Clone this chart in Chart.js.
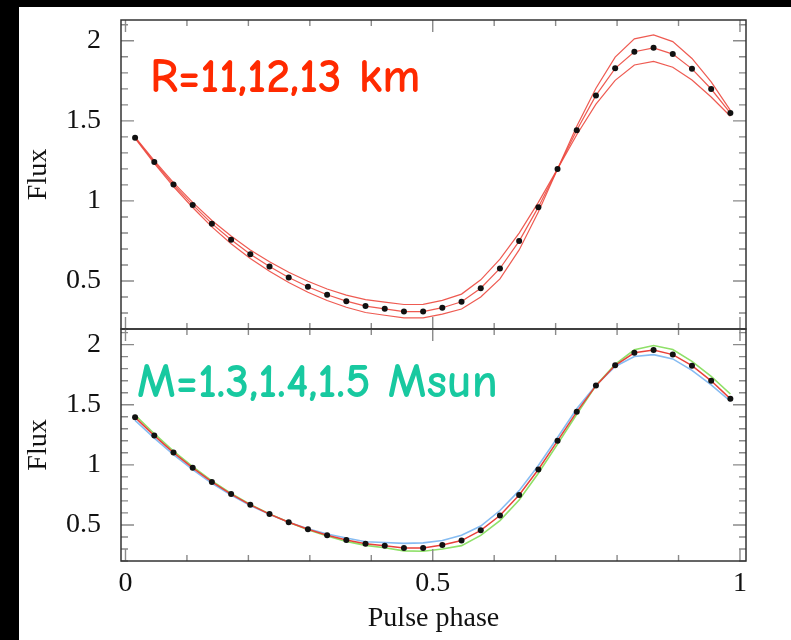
<!DOCTYPE html>
<html>
<head>
<meta charset="utf-8">
<script src="https://cdn.jsdelivr.net/npm/chart.js@4.4.0/dist/chart.umd.min.js"></script>
<style>
  html, body { margin: 0; padding: 0; background: #000; }
  body { width: 791px; height: 640px; position: relative; overflow: hidden; }
  #paper { position: absolute; left: 19px; top: 7px; width: 772px; height: 633px; background: #fff; }
  canvas { position: absolute; left: 0; top: 0; }
</style>
</head>
<body>
<div id="paper"></div>
<canvas id="topPanel" width="791" height="640"></canvas>
<canvas id="bottomPanel" width="791" height="640"></canvas>
<script>
// pulse phase bins (32 per cycle)
const phase = [0.015625, 0.046875, 0.078125, 0.109375, 0.140625, 0.171875, 0.203125, 0.234375,
  0.265625, 0.296875, 0.328125, 0.359375, 0.390625, 0.421875, 0.453125, 0.484375,
  0.515625, 0.546875, 0.578125, 0.609375, 0.640625, 0.671875, 0.703125, 0.734375,
  0.765625, 0.796875, 0.828125, 0.859375, 0.890625, 0.921875, 0.953125, 0.984375];

// reference model (R=12 km, M=1.4 Msun), the black dots
const fluxRef = [1.395, 1.243, 1.102, 0.975, 0.858, 0.757, 0.667, 0.590, 0.522, 0.464, 0.414, 0.374,
  0.343, 0.326, 0.309, 0.309, 0.333, 0.370, 0.455, 0.578, 0.749, 0.961, 1.200, 1.441,
  1.659, 1.828, 1.932, 1.956, 1.917, 1.825, 1.699, 1.549];

// top panel: radius variations
const fluxR13 = [1.399, 1.251, 1.114, 0.991, 0.878, 0.781, 0.694, 0.620, 0.554, 0.498, 0.450, 0.412,
  0.383, 0.368, 0.353, 0.354, 0.379, 0.418, 0.507, 0.636, 0.799, 0.991, 1.200, 1.413,
  1.604, 1.753, 1.849, 1.871, 1.835, 1.755, 1.649, 1.529];
const fluxR11 = [1.391, 1.235, 1.090, 0.959, 0.838, 0.733, 0.640, 0.560, 0.490, 0.430, 0.378, 0.336,
  0.303, 0.286, 0.269, 0.269, 0.293, 0.325, 0.400, 0.513, 0.694, 0.931, 1.200, 1.466,
  1.704, 1.898, 2.012, 2.037, 1.995, 1.890, 1.744, 1.565];

// bottom panel: mass variations
const fluxM13 = [1.415, 1.259, 1.115, 0.985, 0.866, 0.763, 0.671, 0.592, 0.522, 0.461, 0.408, 0.363,
  0.330, 0.310, 0.284, 0.281, 0.300, 0.328, 0.413, 0.536, 0.707, 0.930, 1.172, 1.421,
  1.659, 1.836, 1.957, 1.992, 1.959, 1.861, 1.735, 1.589];
const fluxM15 = [1.370, 1.223, 1.085, 0.960, 0.846, 0.749, 0.662, 0.588, 0.522, 0.468, 0.424, 0.391,
  0.360, 0.354, 0.347, 0.351, 0.371, 0.414, 0.491, 0.620, 0.785, 0.994, 1.228, 1.466,
  1.661, 1.818, 1.901, 1.917, 1.881, 1.786, 1.666, 1.529];

const xTicks = [0, 0.5, 1];
const xMinorTicks = [0, 0.1, 0.2, 0.3, 0.4, 0.5, 0.6, 0.7, 0.8, 0.9, 1];
const yTicks = [0.5, 1, 1.5, 2];
const yMinorTicks = [0.2, 0.3, 0.4, 0.5, 0.6, 0.7, 0.8, 0.9, 1, 1.1, 1.2, 1.3, 1.4, 1.5,
  1.6, 1.7, 1.8, 1.9, 2, 2.1];

const serif = {family: '"Liberation Serif", "Times New Roman", serif', size: 28};
const labelFont = 'bold 48px "Comic Sans MS", "Comic Neue", "Noto Sans", sans-serif';

const toPoints = arr => arr.map((v, i) => ({x: phase[i], y: v}));

// frame with inward ticks on all four sides, plus the panel caption
const framePlugin = {
  id: 'frame',
  afterDraw(chart, args, opts) {
    const {ctx, chartArea: a} = chart;
    const xs = chart.scales.x, ys = chart.scales.y;
    ctx.save();
    ctx.strokeStyle = '#8a8a8a';
    ctx.lineWidth = 1.4;
    ctx.beginPath();
    xMinorTicks.forEach(v => {
      const px = xs.getPixelForValue(v);
      const len = xTicks.includes(v) ? 12 : 6;
      ctx.moveTo(px, a.top); ctx.lineTo(px, a.top + len);
      ctx.moveTo(px, a.bottom); ctx.lineTo(px, a.bottom - len);
    });
    yMinorTicks.forEach(v => {
      const py = ys.getPixelForValue(v);
      const len = yTicks.includes(v) ? 13 : 7;
      ctx.moveTo(a.left, py); ctx.lineTo(a.left + len, py);
      ctx.moveTo(a.right, py); ctx.lineTo(a.right - len, py);
    });
    ctx.stroke();
    ctx.strokeStyle = '#333';
    ctx.lineWidth = 1.5;
    ctx.strokeRect(a.left, a.top, a.right - a.left, a.bottom - a.top);

    ctx.font = labelFont;
    ctx.fillStyle = opts.color;
    ctx.textBaseline = 'alphabetic';
    ctx.fillText(opts.text, xs.getPixelForValue(opts.at[0]), ys.getPixelForValue(opts.at[1]), opts.maxWidth);
    ctx.restore();
  }
};

function yAxis() {
  return {
    min: 0.2, max: 2.13,
    afterFit: s => { s.width = 102; s.paddingTop = 0; s.paddingBottom = 0; },
    afterBuildTicks: s => { s.ticks = yTicks.map(v => ({value: v})); },
    grid: {display: false, drawTicks: false},
    border: {display: false},
    ticks: {padding: 20, color: '#111', font: serif, callback: v => String(v)},
    title: {display: true, text: 'Flux', color: '#111', font: serif, padding: {top: 3, bottom: 0}}
  };
}

function makePanel(id, datasets, padding, xAxis, caption) {
  return new Chart(document.getElementById(id), {
    type: 'line',
    data: {datasets: datasets},
    options: {
      responsive: false,
      animation: false,
      layout: {padding: padding},
      elements: {line: {tension: 0}},
      scales: {x: xAxis, y: yAxis()},
      plugins: {legend: {display: false}, tooltip: {enabled: false}, frame: caption}
    },
    plugins: [framePlugin]
  });
}

const xRange = {type: 'linear', min: -0.0073, max: 1.0098};
const dots = {pointRadius: 3, pointBackgroundColor: '#111', pointBorderWidth: 0};
const red = 'rgba(236,72,62,0.9)';

makePanel('topPanel', [
  Object.assign({data: toPoints(fluxRef), borderColor: red, borderWidth: 1.2}, dots),
  {data: toPoints(fluxR13), borderColor: red, borderWidth: 1.2, pointRadius: 0},
  {data: toPoints(fluxR11), borderColor: red, borderWidth: 1.2, pointRadius: 0}
], {left: 19, right: 45, top: 20, bottom: 311},
  Object.assign({display: false}, xRange),
  {text: 'R=11,12,13 km', color: '#ff2a00', at: [0.04, 1.678], maxWidth: 272});

makePanel('bottomPanel', [
  Object.assign({data: toPoints(fluxRef), borderColor: '#e8403a', borderWidth: 1.5}, dots),
  {data: toPoints(fluxM13), borderColor: '#8ee068', borderWidth: 1.6, pointRadius: 0},
  {data: toPoints(fluxM15), borderColor: '#86bcf2', borderWidth: 1.6, pointRadius: 0}
], {left: 19, right: 45, top: 329, bottom: 0},
  Object.assign({
    afterFit: s => { s.height = 79; },
    afterBuildTicks: s => { s.ticks = xTicks.map(v => ({value: v})); },
    grid: {display: false, drawTicks: false},
    border: {display: false},
    ticks: {padding: 6, color: '#111', font: serif, maxRotation: 0, autoSkip: false, callback: v => String(v)},
    title: {display: true, text: 'Pulse phase', color: '#111', font: serif, padding: {top: 0, bottom: 5}}
  }, xRange),
  {text: 'M=1.3,1.4,1.5 Msun', color: '#18c9a0', at: [0.0187, 1.564], maxWidth: 365});
</script>
</body>
</html>
